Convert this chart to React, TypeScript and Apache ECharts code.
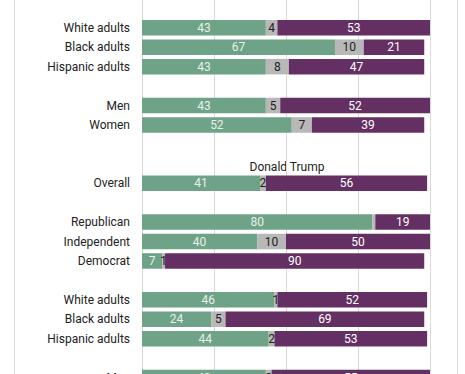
import React, { useEffect, useRef } from "react";
import * as echarts from "echarts";

const rowLabels = [
  "",
  "White adults",
  "Black adults",
  "Hispanic adults",
  "",
  "Men",
  "Women",
  "",
  "",
  "Overall",
  "",
  "Republican",
  "Independent",
  "Democrat",
  "",
  "White adults",
  "Black adults",
  "Hispanic adults",
  "",
  "Men",
];

const greenValues = [null, 43, 67, 43, null, 43, 52, null, null, 41, null, 80, 40, 7, null, 46, 24, 44, null, 43];
const grayValues = [null, 4, 10, 8, null, 5, 7, null, null, 2, null, 1, 10, 1, null, 1, 5, 2, null, 2];
const purpleValues = [null, 53, 21, 47, null, 52, 39, null, null, 56, null, 19, 50, 90, null, 52, 69, 53, null, 55];
// gray labels that are not printed in the reference
const grayHidden = [11];

const xTicks = [0, 25, 50, 75, 100];
const sectionTitle = "Donald Trump";

const FONT = "Roboto, 'Noto Sans', sans-serif";

export default function App() {
  const ref = useRef<HTMLDivElement>(null);

  useEffect(() => {
    if (!ref.current) return;
    const chart = echarts.init(ref.current, undefined, { renderer: "svg" });
    const offset = 40; // container extends above and below the visible page
    const pitch = 19.43;
    const top = offset + 27.8 - pitch * 1.5;
    const gridHeight = pitch * rowLabels.length;

    const labelBase = {
      show: true,
      position: "inside",
      fontFamily: FONT,
      fontSize: 12,
    };

    chart.setOption({
      animation: false,
      backgroundColor: "#ffffff",
      grid: {
        left: 142,
        width: 288,
        top,
        height: gridHeight,
        containLabel: false,
        outerBoundsMode: "none",
      },
      xAxis: {
        type: "value",
        min: xTicks[0],
        max: xTicks[xTicks.length - 1],
        interval: 25,
        axisLabel: { show: false },
        axisLine: { show: false },
        axisTick: { show: false },
        splitLine: { show: true, lineStyle: { color: "#d9d9d9", width: 1 } },
      },
      yAxis: {
        type: "category",
        inverse: true,
        data: rowLabels.map((_, i) => String(i)),
        axisLine: { show: false },
        axisTick: { show: false },
        splitLine: { show: false },
        axisLabel: {
          margin: 12,
          color: "#222222",
          fontFamily: FONT,
          fontSize: 12,
          formatter: (_v: string, i: number) => rowLabels[i],
        },
      },
      graphic: [
        {
          type: "line",
          shape: { x1: 14.5, y1: 0, x2: 14.5, y2: 374 + 2 * offset },
          style: { stroke: "#dcdcdc", lineWidth: 1 },
          silent: true,
        },
        {
          type: "line",
          shape: { x1: 457.5, y1: 0, x2: 457.5, y2: 374 + 2 * offset },
          style: { stroke: "#dcdcdc", lineWidth: 1 },
          silent: true,
        },
        {
          type: "text",
          x: 287,
          y: offset + 167,
          style: {
            text: sectionTitle,
            fill: "#222222",
            font: `12px ${FONT}`,
            textAlign: "center",
            textVerticalAlign: "middle",
          },
          silent: true,
        },
      ],
      series: [
        {
          type: "bar",
          stack: "total",
          barWidth: "80%",
          data: greenValues,
          itemStyle: { color: "#6fa388" },
          label: { ...labelBase, color: "#e8f0eb" },
        },
        {
          type: "bar",
          stack: "total",
          barWidth: "80%",
          data: grayValues.map((v, i) =>
            grayHidden.includes(i) ? { value: v, label: { show: false } } : v
          ),
          itemStyle: { color: "#b8b8b8" },
          label: { ...labelBase, color: "#222222" },
        },
        {
          type: "bar",
          stack: "total",
          barWidth: "80%",
          data: purpleValues,
          itemStyle: { color: "#643063" },
          label: { ...labelBase, color: "#ffffff" },
        },
      ],
    });
    return () => chart.dispose();
  }, []);

  return (
    <div style={{ position: "fixed", left: 0, top: 0, width: 465, height: 374, overflow: "hidden", background: "#fff" }}>
      <div
        ref={ref}
        style={{ position: "absolute", left: 0, top: -40, width: 465, height: 454 }}
      />
    </div>
  );
}
